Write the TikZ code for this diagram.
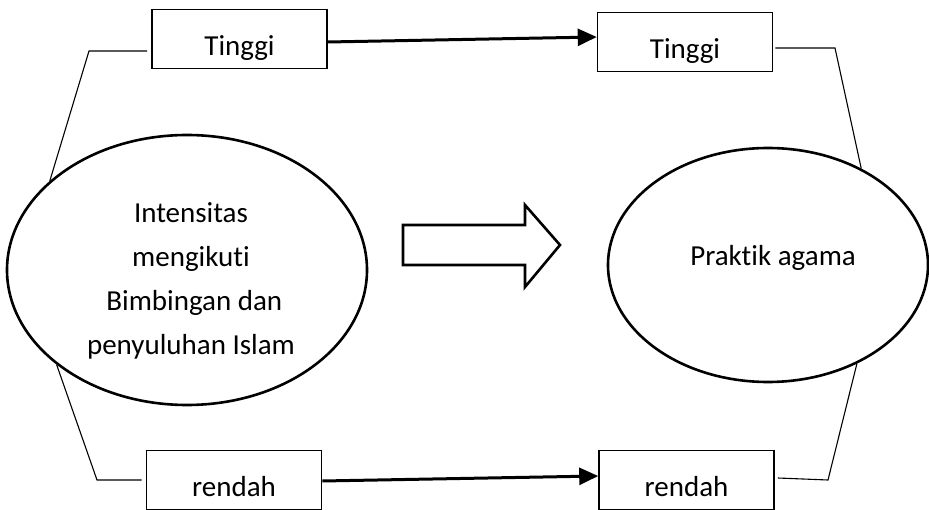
\documentclass[tikz,border=0pt]{standalone}
\usepackage{fontspec}
\setmainfont[Ligatures=NoCommon]{Carlito}
\usetikzlibrary{positioning,arrows.meta,shapes.geometric}

\tikzset{
  every node/.style={font=\fontsize{29}{44}\selectfont},
  level/.style={draw,line width=1.6pt,minimum width=175pt,minimum height=59pt,
    text height=33pt,text depth=0pt,inner sep=0pt},
  oval/.style={draw,ellipse,line width=2.6pt,inner sep=0pt},
  link/.style={line width=1.1pt},
  flow/.style={line width=3pt,-{Triangle[length=19pt,width=17pt]}}
}

\begin{document}
\begin{tikzpicture}[x=1pt,y=-1pt]
\useasboundingbox (0,0) rectangle (929,510);
% variabel X dan Y
\node[oval,minimum width=360pt,minimum height=270pt] (ib) at (187,270) {};
\node[align=center] (ibtext) at (191,281)
  {Intensitas\\mengikuti\\\ Bimbingan dan\\penyuluhan Islam};
\node[oval,minimum width=320pt,minimum height=234pt] (pa) at (768,265) {};
\node (patext) at (773,258) {Praktik agama};
% kategori
\node[level] (tl) at (239.5,39) {Tinggi};
\node[level] (tr) at (685,42) {Tinggi};
\node[level] (bl) at (234,480) {rendah};
\node[level] (br) at (686.5,480) {rendah};
% kurung
\coordinate (tlk) at (89,51);
\coordinate (blk) at (97,480);
\coordinate (trk) at (835,48);
\coordinate (brk) at (828,480);
\draw[link] ([xshift=-4pt,yshift=-12pt]tl.west) -- (tlk) -- (ib.147);
\draw[link] ([xshift=-4pt]bl.west) -- (blk) -- (ib.216);
\draw[link] ([xshift=2pt,yshift=-6pt]tr.east) -- (trk) -- (pa.46);
\draw[link] ([xshift=3pt,yshift=2pt]br.east) -- (brk) -- (pa.-48);
% panah
\draw[flow] ([yshift=-3pt]tl.east) -- ([yshift=5pt]tr.west);
\draw[flow] ([yshift=-1pt]bl.east) -- ([yshift=4pt]br.west);
\draw[line width=2.6pt,miter limit=10] (403,225) -- (525,225) -- (525,205) -- (560,245)
  -- (525,287) -- (525,265) -- (403,265) -- cycle;
\end{tikzpicture}
\end{document}
